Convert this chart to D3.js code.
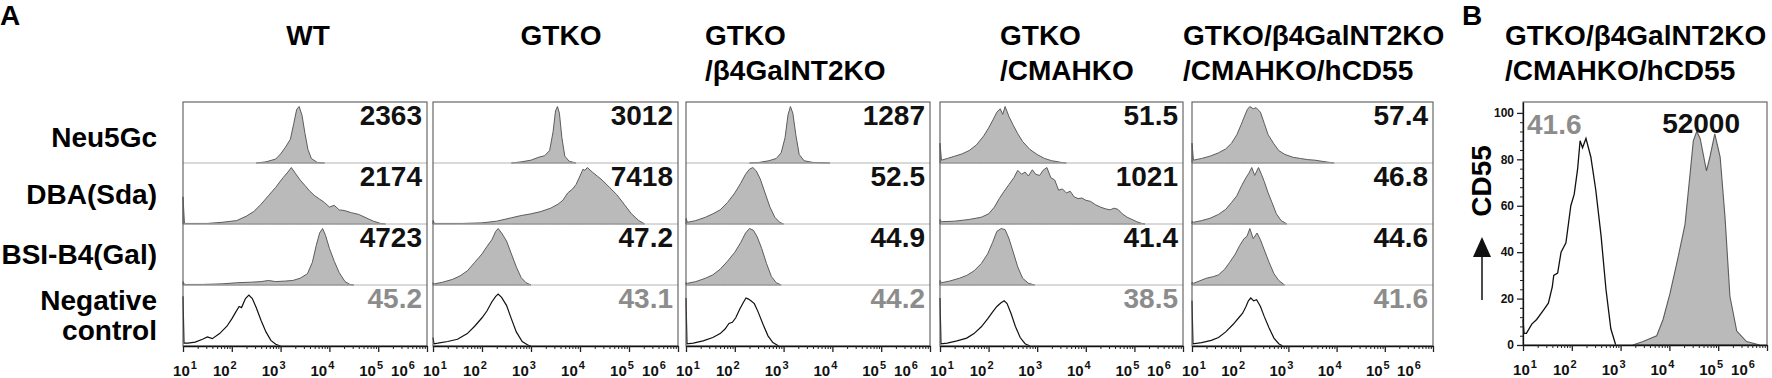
<!DOCTYPE html>
<html>
<head>
<meta charset="utf-8">
<script src="https://cdn.jsdelivr.net/npm/d3@7"></script>
<style>
body { margin: 0; background: #fff; }
text { font-family: "Liberation Sans", Arial, sans-serif; font-weight: bold; }
</style>
</head>
<body>
<div id="chart"></div>
<script>
// panel titles, row labels and MFI values
var panelTitles = [["WT"], ["GTKO"], ["GTKO", "/β4GalNT2KO"], ["GTKO", "/CMAHKO"], ["GTKO/β4GalNT2KO", "/CMAHKO/hCD55"]];
var rowLabels = [["Neu5Gc"], ["DBA(Sda)"], ["BSI-B4(Gal)"], ["Negative", "control"]];
var mfiWT = ["2363", "2174", "4723", "45.2"];
var mfiGTKO = ["3012", "7418", "47.2", "43.1"];
var mfiB4 = ["1287", "52.5", "44.9", "44.2"];
var mfiCM = ["51.5", "1021", "41.4", "38.5"];
var mfiH = ["57.4", "46.8", "44.6", "41.6"];
var decades = [1, 2, 3, 4, 5, 6];           // x tick labels 10^n
var yTicksB = [0, 20, 40, 60, 80, 100];

// histograms: [log10 fluorescence, % of max]
var wtNeu = [[2.5,0],[2.7,2],[2.9,7],[3.0,16],[3.1,28],[3.2,42],[3.27,70],[3.33,95],[3.38,100],[3.44,84],[3.5,52],[3.56,24],[3.63,8],[3.75,1],[3.9,0]];
var wtDba = [[1.0,48],[1.03,1],[1.5,1],[1.8,3],[2.1,6],[2.3,14],[2.45,22],[2.6,35],[2.75,50],[2.9,65],[3.05,82],[3.15,92],[3.22,100],[3.3,90],[3.4,78],[3.5,68],[3.6,58],[3.7,50],[3.8,44],[3.9,38],[4.0,30],[4.1,33],[4.2,25],[4.3,24],[4.45,20],[4.6,17],[4.75,11],[4.9,5],[5.05,1],[5.15,0]];
var wtBsi = [[1.0,6],[1.03,1],[1.4,1],[1.8,2],[2.1,4],[2.4,5],[2.6,6],[2.75,8],[2.9,6],[3.1,7],[3.25,8],[3.4,12],[3.55,20],[3.65,40],[3.73,70],[3.8,92],[3.86,100],[3.92,88],[4.0,65],[4.1,42],[4.2,22],[4.32,6],[4.42,1],[4.5,0]];
var wtNeg = [[1.0,88],[1.02,5],[1.1,5],[1.25,7],[1.4,12],[1.5,16],[1.6,13],[1.75,22],[1.9,35],[2.0,48],[2.08,60],[2.15,70],[2.2,68],[2.28,84],[2.35,90],[2.42,84],[2.5,68],[2.6,45],[2.7,25],[2.8,10],[2.9,3],[3.0,0]];

var gtNeu = [[2.6,0],[2.8,2],[3.0,5],[3.15,10],[3.28,13],[3.38,22],[3.45,55],[3.5,92],[3.54,100],[3.58,88],[3.63,45],[3.69,12],[3.78,3],[3.92,0]];
var gtDba = [[1.0,6],[1.03,1],[1.6,1],[2.0,2],[2.3,5],[2.6,11],[2.8,15],[3.0,18],[3.2,22],[3.4,28],[3.55,35],[3.65,42],[3.75,55],[3.85,62],[3.92,70],[4.0,85],[4.06,97],[4.1,95],[4.15,100],[4.25,92],[4.35,85],[4.45,78],[4.6,65],[4.75,52],[4.9,35],[5.05,18],[5.2,6],[5.32,0]];
var gtBsi = [[1.0,4],[1.03,2],[1.2,5],[1.4,10],[1.55,16],[1.7,25],[1.85,40],[2.0,55],[2.1,68],[2.2,80],[2.28,95],[2.33,100],[2.4,92],[2.5,78],[2.6,55],[2.7,32],[2.8,13],[2.9,4],[3.0,0]];
var gtNeg = [[1.0,15],[1.02,4],[1.1,5],[1.3,8],[1.5,12],[1.7,22],[1.85,35],[2.0,50],[2.1,62],[2.2,78],[2.28,88],[2.33,92],[2.4,86],[2.5,72],[2.6,48],[2.7,25],[2.82,8],[2.95,1],[3.0,0]];

var b4Neu = [[2.3,0],[2.5,1],[2.7,4],[2.85,8],[2.95,18],[3.03,45],[3.09,85],[3.14,100],[3.19,88],[3.25,50],[3.32,15],[3.42,4],[3.6,1],[3.95,0]];
var b4Dba = [[1.0,10],[1.03,3],[1.2,6],[1.4,12],[1.55,18],[1.7,25],[1.85,38],[2.0,55],[2.12,72],[2.22,88],[2.3,97],[2.37,100],[2.44,94],[2.52,80],[2.62,55],[2.72,30],[2.82,12],[2.92,3],[3.0,0]];
var b4Bsi = [[1.0,4],[1.03,3],[1.2,6],[1.4,12],[1.55,18],[1.7,28],[1.85,42],[2.0,58],[2.12,75],[2.22,92],[2.3,100],[2.38,97],[2.46,85],[2.55,65],[2.65,38],[2.75,15],[2.85,4],[2.95,0]];
var b4Neg = [[1.0,85],[1.02,4],[1.15,5],[1.35,9],[1.55,15],[1.7,22],[1.8,30],[1.88,40],[1.95,42],[2.02,50],[2.1,65],[2.18,78],[2.23,85],[2.28,83],[2.33,80],[2.4,75],[2.48,60],[2.58,38],[2.68,18],[2.78,6],[2.9,0]];

var cmNeu = [[1.0,35],[1.03,5],[1.15,8],[1.3,12],[1.45,16],[1.6,22],[1.75,32],[1.9,48],[2.0,62],[2.1,78],[2.17,90],[2.24,96],[2.29,86],[2.34,100],[2.42,82],[2.5,68],[2.6,52],[2.7,38],[2.85,24],[3.0,15],[3.15,8],[3.3,4],[3.5,1],[3.6,0]];
var cmDba = [[1.0,8],[1.03,4],[1.3,5],[1.6,8],[1.85,12],[2.0,18],[2.12,30],[2.22,45],[2.32,58],[2.42,70],[2.52,82],[2.6,95],[2.68,88],[2.75,92],[2.82,85],[2.9,96],[2.97,88],[3.05,86],[3.12,95],[3.2,100],[3.28,82],[3.36,78],[3.44,60],[3.52,62],[3.6,55],[3.68,58],[3.76,48],[3.84,45],[3.92,46],[4.0,42],[4.1,40],[4.2,34],[4.3,30],[4.4,27],[4.5,25],[4.58,28],[4.66,26],[4.75,18],[4.85,12],[4.95,8],[5.05,4],[5.15,1],[5.22,0]];
var cmBsi = [[1.0,8],[1.03,4],[1.2,7],[1.4,12],[1.55,17],[1.7,25],[1.85,38],[1.98,55],[2.08,75],[2.17,95],[2.26,100],[2.34,98],[2.42,82],[2.5,60],[2.6,32],[2.7,12],[2.82,3],[2.95,0]];
var cmNeg = [[1.0,85],[1.02,4],[1.15,5],[1.35,9],[1.55,14],[1.7,22],[1.85,34],[1.98,48],[2.08,60],[2.17,70],[2.25,76],[2.32,80],[2.38,75],[2.46,58],[2.55,35],[2.65,15],[2.75,4],[2.85,0]];

var hNeu = [[1.0,35],[1.03,5],[1.2,8],[1.37,12],[1.55,18],[1.7,25],[1.82,35],[1.93,50],[2.02,68],[2.1,85],[2.15,95],[2.2,100],[2.27,96],[2.33,98],[2.42,90],[2.5,70],[2.58,50],[2.69,35],[2.8,22],[2.93,15],[3.1,10],[3.25,8],[3.4,6],[3.55,5],[3.7,3],[3.86,1],[3.95,0]];
var hDba = [[1.0,5],[1.03,3],[1.2,6],[1.37,10],[1.55,17],[1.7,26],[1.82,38],[1.93,50],[2.03,68],[2.12,82],[2.18,90],[2.24,100],[2.3,86],[2.38,100],[2.44,88],[2.5,75],[2.58,55],[2.66,38],[2.75,18],[2.85,6],[2.97,0]];
var hBsi = [[1.0,5],[1.03,3],[1.15,7],[1.3,12],[1.45,15],[1.55,18],[1.68,28],[1.78,40],[1.9,55],[1.99,70],[2.08,82],[2.14,86],[2.2,100],[2.27,82],[2.35,92],[2.42,80],[2.5,62],[2.6,40],[2.7,20],[2.8,8],[2.92,0]];
var hNeg = [[1.0,80],[1.02,4],[1.2,6],[1.4,10],[1.55,15],[1.7,25],[1.85,38],[1.97,50],[2.05,58],[2.12,70],[2.17,80],[2.22,85],[2.28,80],[2.34,82],[2.42,70],[2.5,52],[2.6,32],[2.7,14],[2.8,4],[2.88,0]];

// panel B
var bNeg = [[1.0,11],[1.02,5],[1.07,5],[1.18,9],[1.28,11],[1.42,15],[1.52,18],[1.6,25],[1.63,30],[1.71,31],[1.78,40],[1.88,44],[1.98,60],[2.05,65],[2.12,76],[2.17,88],[2.22,85],[2.29,89],[2.39,81],[2.49,67],[2.6,47],[2.7,24],[2.8,7],[2.9,0]];
var bPos = [[3.25,0],[3.46,1.5],[3.74,4],[3.87,11],[4.01,22],[4.18,38],[4.32,52],[4.42,73],[4.49,88],[4.56,92],[4.63,89],[4.76,75],[4.83,81],[4.93,91],[5.04,81],[5.14,55],[5.24,21],[5.38,6],[5.58,1.5],[5.85,0]];
var bLabels = ["41.6", "52000"];

var panels = [
  {hist: [wtNeu, wtDba, wtBsi, wtNeg], mfi: mfiWT},
  {hist: [gtNeu, gtDba, gtBsi, gtNeg], mfi: mfiGTKO},
  {hist: [b4Neu, b4Dba, b4Bsi, b4Neg], mfi: mfiB4},
  {hist: [cmNeu, cmDba, cmBsi, cmNeg], mfi: mfiCM},
  {hist: [hNeu, hDba, hBsi, hNeg], mfi: mfiH}
];

// layout
var W = 1772, H = 378;
var panelX = [[183, 427], [433, 678], [686, 930], [940, 1183], [1192, 1433]];
var titleX = [[308, "middle"], [561, "middle"], [705, "start"], [1000, "start"], [1183, "start"]];
var top0 = 102, rowH = 61, axisY = 346;
var labelY = [[147], [204], [264], [310, 340]];
var fillGray = "#bababa", strokeGray = "#5c5c5c", numGray = "#8c8c8c";

var svg = d3.select("#chart").append("svg")
  .attr("width", W).attr("height", H);

function bottomAxis(g, x) {
  var ticks = [];
  for (var e = 1; e < 6; e++) for (var m = 1; m < 10; m++) ticks.push(m * Math.pow(10, e));
  ticks.push(1e6);
  g.call(d3.axisBottom(x).tickValues(ticks).tickSize(3).tickSizeOuter(0).tickFormat(""));
  g.select(".domain").attr("stroke", "#111").attr("stroke-width", 1.3);
  g.selectAll(".tick line").attr("stroke", "#222")
    .filter(function(d) { return Math.abs(Math.log10(d) - Math.round(Math.log10(d))) < 1e-9; })
    .attr("y2", 6).attr("stroke-width", 1.3);
  decades.forEach(function(e, i) {
    var px = x(Math.pow(10, e));
    var off = i === 0 ? 2 : (i === decades.length - 1 ? -24 : -7);
    var t = g.append("text").attr("x", px + off).attr("y", 30)
      .attr("fill", "#111").style("font-size", "15px");
    t.append("tspan").text("10");
    t.append("tspan").attr("dy", -7).attr("dx", 1).style("font-size", "11px").text(e);
  });
}

// panel letters
svg.append("text").attr("x", 0).attr("y", 25).style("font-size", "28px").text("A");
svg.append("text").attr("x", 1462).attr("y", 25).style("font-size", "28px").text("B");

// row labels
rowLabels.forEach(function(lines, r) {
  lines.forEach(function(s, k) {
    svg.append("text").attr("x", 157).attr("y", labelY[r][k])
      .attr("text-anchor", "end").style("font-size", "28px").text(s);
  });
});

panels.forEach(function(p, i) {
  var x0 = panelX[i][0], x1 = panelX[i][1];
  var x = d3.scaleLog().domain([10, 1e6]).range([x0, x1]);

  // title
  panelTitles[i].forEach(function(s, k) {
    svg.append("text").attr("x", titleX[i][0]).attr("y", 45 + k * 35)
      .attr("text-anchor", titleX[i][1]).style("font-size", "28px").text(s);
  });

  p.hist.forEach(function(h, r) {
    var yb = top0 + (r + 1) * rowH;
    var y = d3.scaleLinear().domain([0, 108]).range([yb, yb - rowH]);
    if (r < 3) {
      svg.append("path").datum(h)
        .attr("fill", fillGray).attr("stroke", strokeGray).attr("stroke-width", 1)
        .attr("d", d3.area().x(function(d) { return x(Math.pow(10, d[0])); })
          .y0(y(0)).y1(function(d) { return y(d[1]); }));
    } else {
      svg.append("path").datum(h)
        .attr("fill", "none").attr("stroke", "#111").attr("stroke-width", 1.2)
        .attr("d", d3.line().x(function(d) { return x(Math.pow(10, d[0])); })
          .y(function(d) { return y(d[1]); }));
    }
    svg.append("text").attr("x", x1 - 5).attr("y", yb - rowH + 23)
      .attr("text-anchor", "end").style("font-size", "28px")
      .attr("fill", r === 3 ? numGray : "#111").text(p.mfi[r]);
  });

  // row separators
  for (var r = 1; r < 4; r++) {
    svg.append("line").attr("x1", x0).attr("x2", x1)
      .attr("y1", top0 + r * rowH).attr("y2", top0 + r * rowH)
      .attr("stroke", "#b4b4b4").attr("stroke-width", 1);
  }
  svg.append("rect").attr("x", x0).attr("y", top0)
    .attr("width", x1 - x0).attr("height", axisY - top0)
    .attr("fill", "none").attr("stroke", "#5a5a5a").attr("stroke-width", 1.1);

  svg.append("g").attr("transform", "translate(0," + axisY + ")")
    .call(bottomAxis, x);
});

// panel B
var bx0 = 1523, bx1 = 1767, bTop = 102, bBot = 345;
var xB = d3.scaleLog().domain([10, 1e6]).range([bx0, bx1]);
var yB = d3.scaleLinear().domain([0, 104.7]).range([bBot, bTop]);

svg.append("text").attr("x", 1505).attr("y", 45).style("font-size", "28px").text("GTKO/β4GalNT2KO");
svg.append("text").attr("x", 1505).attr("y", 80).style("font-size", "28px").text("/CMAHKO/hCD55");

svg.append("path").datum(bPos)
  .attr("fill", fillGray).attr("stroke", strokeGray).attr("stroke-width", 1.1)
  .attr("d", d3.area().x(function(d) { return xB(Math.pow(10, d[0])); })
    .y0(yB(0)).y1(function(d) { return yB(d[1]); }));
svg.append("path").datum(bNeg)
  .attr("fill", "none").attr("stroke", "#111").attr("stroke-width", 1.3)
  .attr("d", d3.line().x(function(d) { return xB(Math.pow(10, d[0])); })
    .y(function(d) { return yB(d[1]); }));

svg.append("rect").attr("x", bx0).attr("y", bTop)
  .attr("width", bx1 - bx0).attr("height", bBot - bTop)
  .attr("fill", "none").attr("stroke", "#5a5a5a").attr("stroke-width", 1.1);

svg.append("g").attr("transform", "translate(0," + bBot + ")").call(bottomAxis, xB);

var gy = svg.append("g").attr("transform", "translate(" + bx0 + ",0)")
  .call(d3.axisLeft(yB).tickValues(d3.range(0, 101, 4)).tickSize(3).tickSizeOuter(0).tickFormat(""));
gy.select(".domain").attr("stroke", "#111").attr("stroke-width", 1.3);
gy.selectAll(".tick line").attr("stroke", "#222")
  .filter(function(d) { return yTicksB.indexOf(d) >= 0; }).attr("x2", -6).attr("stroke-width", 1.3);
yTicksB.forEach(function(v) {
  gy.append("text").attr("x", -9).attr("y", yB(v)).attr("dy", "0.35em")
    .attr("text-anchor", "end").attr("fill", "#111").style("font-size", "12px").text(v);
});

svg.append("text").attr("transform", "translate(1491,181) rotate(-90)")
  .attr("text-anchor", "middle").style("font-size", "28px").text("CD55");
svg.append("line").attr("x1", 1482).attr("x2", 1482).attr("y1", 300).attr("y2", 255)
  .attr("stroke", "#111").attr("stroke-width", 1.5);
svg.append("path").attr("d", "M1482,237L1473,257L1491,257Z").attr("fill", "#111");

svg.append("text").attr("x", 1527).attr("y", 134).style("font-size", "28px")
  .attr("fill", numGray).text(bLabels[0]);
svg.append("text").attr("x", 1740).attr("y", 133).attr("text-anchor", "end")
  .style("font-size", "28px").attr("fill", "#111").text(bLabels[1]);
</script>
</body>
</html>
